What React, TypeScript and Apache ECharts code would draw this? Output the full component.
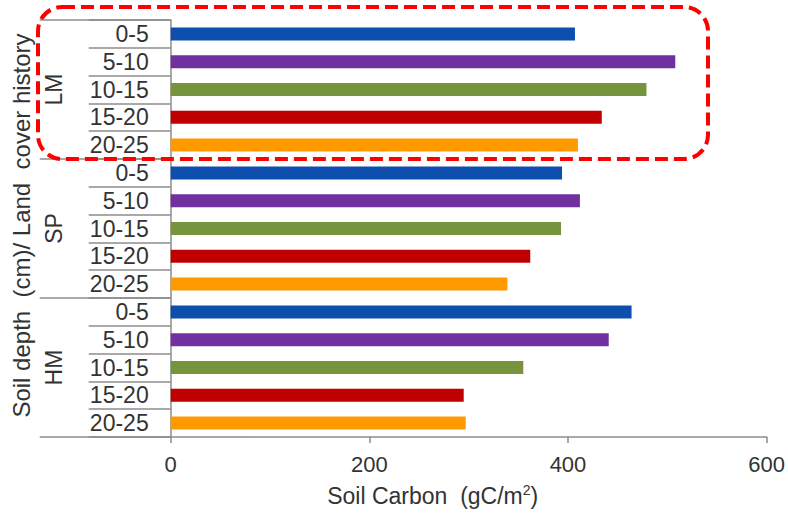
import React, { useEffect, useRef } from "react";
import * as echarts from "echarts";

const depths = ["0-5", "5-10", "10-15", "15-20", "20-25"];
const groups = ["LM", "SP", "HM"];
const LM = [407, 508, 479, 434, 410];
const SP = [394, 412, 393, 362, 339];
const HM = [464, 441, 355, 295, 297];
const depthColors = ["#0E4EAD", "#7030A0", "#77933C", "#C00000", "#FF9900"];
const xTicks = { min: 0, max: 600, interval: 200 };

const FONT = 'Arial, "Liberation Sans", sans-serif';
const TEXT = "#333333";
const AXIS = "#8c8c8c";

export default function App() {
  const ref = useRef<HTMLDivElement>(null);
  useEffect(() => {
    const chart = echarts.init(ref.current!, undefined, { renderer: "svg" });
    const valuesByGroup = [LM, SP, HM];
    const categories: string[] = [];
    const data: any[] = [];
    groups.forEach((g, gi) => {
      depths.forEach((d, di) => {
        categories.push(g + "|" + d);
        data.push({ value: valuesByGroup[gi][di], itemStyle: { color: depthColors[di] } });
      });
    });
    chart.setOption({
      animation: false,
      backgroundColor: "#ffffff",
      grid: { left: 170.7, right: 19.7, top: 20, bottom: 73, containLabel: false },
      xAxis: {
        type: "value",
        min: xTicks.min,
        max: xTicks.max,
        interval: xTicks.interval,
        splitLine: { show: false },
        axisLine: { show: true, lineStyle: { color: AXIS, width: 1.5 } },
        axisTick: { show: true, length: 6, lineStyle: { color: AXIS, width: 1.5 } },
        axisLabel: { fontSize: 22, color: TEXT, fontFamily: FONT, margin: 16 },
        name: "Soil Carbon  (gC/m{sup|2})",
        nameLocation: "middle",
        nameGap: 46,
        nameTextStyle: {
          fontSize: 23,
          lineHeight: 26,
          color: TEXT,
          fontFamily: FONT,
          padding: [0, 72, 0, 0],
          rich: {
            sup: {
              fontSize: 14,
              lineHeight: 14,
              color: TEXT,
              fontFamily: FONT,
              verticalAlign: "top",
              padding: [0, 0, 12, 0],
            },
          },
        },
      },
      yAxis: [
        {
          type: "category",
          data: categories,
          inverse: true,
          position: "left",
          axisLine: { show: true, lineStyle: { color: AXIS, width: 1.5 } },
          axisTick: { show: true, interval: 0, length: 82, lineStyle: { color: AXIS, width: 1.5 } },
          axisLabel: {
            interval: 0,
            hideOverlap: false,
            fontSize: 23,
            color: TEXT,
            fontFamily: FONT,
            margin: 22,
            formatter: (v: string) => v.split("|")[1],
          },
        },
        {
          type: "category",
          data: groups,
          inverse: true,
          position: "left",
          axisLine: { show: false },
          axisTick: { show: true, interval: 0, length: 131, lineStyle: { color: AXIS, width: 1.5 } },
          axisLabel: { interval: 0, fontSize: 23, color: TEXT, fontFamily: FONT, rotate: 90, margin: 105 },
          name: "Soil depth  (cm)/ Land  cover history",
          nameLocation: "middle",
          nameRotate: 90,
          nameGap: 137,
          nameTextStyle: { fontSize: 24, color: TEXT, fontFamily: FONT, padding: [0, 0, 0, 6] },
        },
      ],
      series: [
        {
          type: "bar",
          yAxisIndex: 0,
          barWidth: 13,
          data,
        },
      ],
      graphic: [
        {
          type: "rect",
          shape: { x: 38, y: 7, width: 670, height: 152, r: 24 },
          style: { fill: "none", stroke: "#FF0000", lineWidth: 4, lineDash: [13, 6] },
          z: 100,
        },
      ],
    });
    return () => chart.dispose();
  }, []);
  return <div ref={ref} style={{ width: 788, height: 514, position: "absolute", left: 0, top: 0 }} />;
}
